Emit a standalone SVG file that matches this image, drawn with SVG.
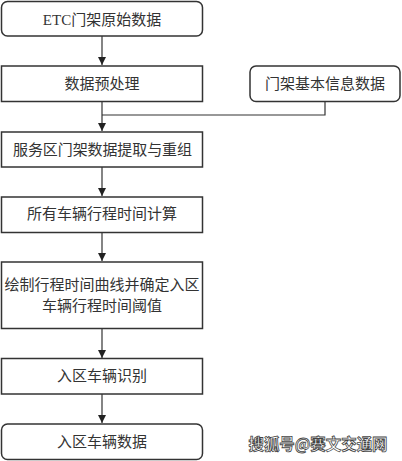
<svg xmlns="http://www.w3.org/2000/svg" width="402" height="461" viewBox="0 0 402 461">
<defs>
<marker id="arr" viewBox="0 0 8 8" refX="8" refY="4" markerWidth="8" markerHeight="8" markerUnits="userSpaceOnUse" orient="auto">
<path d="M0,0 L8,4 L0,8 Z" fill="#222"/>
</marker>
</defs>
<style>
.box{fill:#fff;stroke:#333;stroke-width:1.5}
.t{font-family:"Liberation Serif","Noto Sans CJK SC",serif;font-size:15px;fill:#333;text-anchor:middle}
.c{fill:none;stroke:#333;stroke-width:1.2}
.wm{font-family:"Noto Sans CJK SC",sans-serif;font-size:16px;font-weight:bold;fill:#fff;stroke:#444;stroke-width:0.8;text-anchor:middle}
</style>
<rect width="402" height="461" fill="#fff"/>
<g id="connectors">
<path class="c" d="M102,36 V65" marker-end="url(#arr)"/>
<path class="c" d="M102,102 V131" marker-end="url(#arr)"/>
<path class="c" d="M325,102 V115 H102"/>
<path class="c" d="M102,167 V196" marker-end="url(#arr)"/>
<path class="c" d="M102,232 V261" marker-end="url(#arr)"/>
<path class="c" d="M102,328 V358" marker-end="url(#arr)"/>
<path class="c" d="M102,394 V423" marker-end="url(#arr)"/>
</g>
<g id="n1"><rect class="box" x="1.5" y="1.5" width="201" height="34.5" rx="6"/><text class="t" x="102" y="25">ETC门架原始数据</text></g>
<g id="n2"><rect class="box" x="1.5" y="66" width="201" height="35.5"/><text class="t" x="102" y="89">数据预处理</text></g>
<g id="n3"><rect class="box" x="250" y="66" width="150" height="35.5" rx="6"/><text class="t" x="325" y="89">门架基本信息数据</text></g>
<g id="n4"><rect class="box" x="1.5" y="132" width="201" height="35"/><text class="t" x="102.5" y="154.5" textLength="179" lengthAdjust="spacing">服务区门架数据提取与重组</text></g>
<g id="n5"><rect class="box" x="1.5" y="197" width="201" height="35.5"/><text class="t" x="102" y="218.5">所有车辆行程时间计算</text></g>
<g id="n6"><rect class="box" x="1.5" y="262" width="201" height="66.5"/><text class="t" x="102" y="290">绘制行程时间曲线并确定入区</text><text class="t" x="102" y="311">车辆行程时间阈值</text></g>
<g id="n7"><rect class="box" x="1.5" y="358.5" width="201" height="35.5"/><text class="t" x="102" y="380.5">入区车辆识别</text></g>
<g id="n8"><rect class="box" x="1.5" y="424" width="201" height="35.5" rx="6"/><text class="t" x="102" y="447">入区车辆数据</text></g>
<text class="wm" x="318" y="450" textLength="139" lengthAdjust="spacingAndGlyphs">搜狐号@赛文交通网</text>
</svg>
